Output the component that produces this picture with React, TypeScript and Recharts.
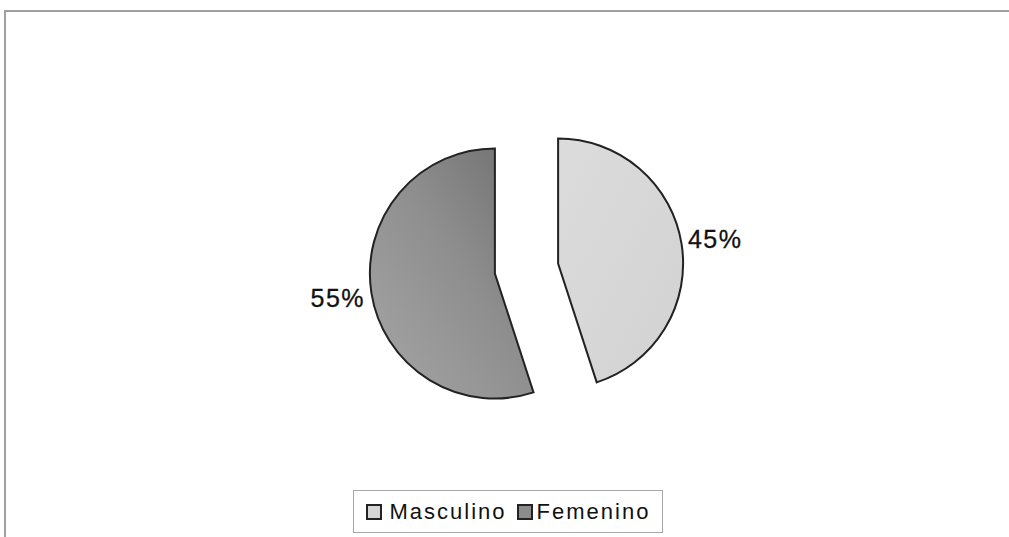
import React from "react";
import { PieChart, Pie, Cell, Sector, Legend } from "recharts";

const categories = ["Masculino", "Femenino"];
const values = [45, 55];
const fills = ["url(#gradMasc)", "url(#gradFem)"];
const swatches = ["#d6d6d6", "#8c8c8c"];

const chartData = categories.map((name, i) => ({ name, value: values[i] }));

const RAD = Math.PI / 180;
const EXPLODE = 32;

// sector pulled out along its bisector
const ExplodedSector = (props: any) => {
  const { cx, cy, midAngle } = props;
  const dx = Math.cos(-midAngle * RAD) * EXPLODE;
  const dy = Math.sin(-midAngle * RAD) * EXPLODE;
  return <Sector {...props} cx={cx + dx} cy={cy + dy} />;
};

const renderLabel = (props: any) => {
  const { cx, cy, midAngle, percent } = props;
  const r = 191;
  const x = cx + Math.cos(-midAngle * RAD) * r;
  const y = cy + Math.sin(-midAngle * RAD) * r;
  return (
    <text
      x={x}
      y={y}
      textAnchor="middle"
      dominantBaseline="central"
      fontFamily="Liberation Sans, Arial, sans-serif"
      fontSize={25}
      letterSpacing={1.5}
      fill="#111"
      stroke="#111"
      strokeWidth={0.3}
    >
      {`${Math.round(percent * 100)}%`}
    </text>
  );
};

const LegendBox = () => (
  <div
    style={{
      width: 308,
      height: 41,
      border: "1px solid #a8a8a8",
      background: "#fff",
      display: "flex",
      alignItems: "center",
      justifyContent: "center",
      gap: 10,
      fontFamily: "Liberation Sans, Arial, sans-serif",
      fontSize: 22,
      letterSpacing: 2,
      color: "#111",
      boxSizing: "content-box",
    }}
  >
    {categories.map((c, i) => (
      <span key={c} style={{ display: "flex", alignItems: "center" }}>
        <span
          style={{
            width: 12,
            height: 12,
            border: "2px solid #222",
            background: swatches[i],
            marginRight: i === 0 ? 8 : 4,
            display: "inline-block",
          }}
        />
        {c}
      </span>
    ))}
  </div>
);

export default function App() {
  return (
    <div
      style={{
        position: "fixed",
        left: 0,
        top: 0,
        width: 1009,
        height: 537,
        background: "#fff",
        overflow: "hidden",
      }}
    >
      <div
        style={{
          position: "absolute",
          left: 4,
          top: 10,
          width: 1300,
          height: 700,
          borderLeft: "2px solid #a0a0a0",
          borderTop: "2px solid #a0a0a0",
        }}
      />
      <div style={{ position: "absolute", left: 0, top: 0 }}>
        <PieChart width={1009} height={537} margin={{ top: 0, right: 0, bottom: 0, left: 0 }}>
          <defs>
            <linearGradient id="gradFem" x1="1" y1="0" x2="0" y2="1">
              <stop offset="0%" stopColor="#6e6e6e" />
              <stop offset="45%" stopColor="#8e8e8e" />
              <stop offset="100%" stopColor="#a6a6a6" />
            </linearGradient>
            <linearGradient id="gradMasc" x1="0" y1="0" x2="1" y2="1">
              <stop offset="0%" stopColor="#dcdcdc" />
              <stop offset="100%" stopColor="#d2d2d2" />
            </linearGradient>
          </defs>
          <Pie
            data={chartData}
            dataKey="value"
            nameKey="name"
            cx={526.5}
            cy={268.5}
            outerRadius={125}
            startAngle={90}
            endAngle={-270}
            stroke="#222"
            strokeWidth={2}
            shape={ExplodedSector}
            label={renderLabel}
            labelLine={false}
            isAnimationActive={false}
          >
            {chartData.map((d, i) => (
              <Cell key={d.name} fill={fills[i]} />
            ))}
          </Pie>
          <Legend
            content={<LegendBox />}
            layout="horizontal"
            verticalAlign="bottom"
            wrapperStyle={{ position: "absolute", left: 353, top: 490, bottom: "auto", width: 310 }}
          />
        </PieChart>
      </div>
    </div>
  );
}
